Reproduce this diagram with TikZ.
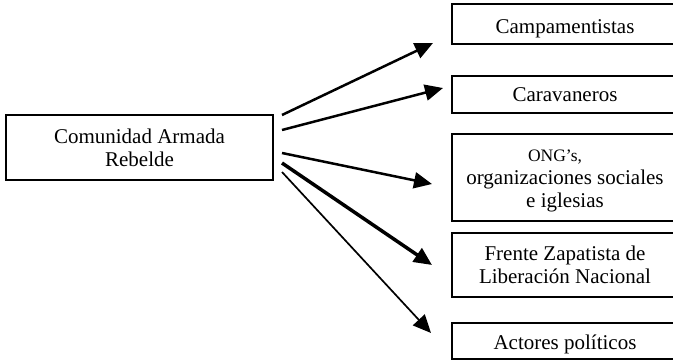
\documentclass[tikz,border=0pt]{standalone}
\usepackage{fontspec}
\setmainfont{Liberation Serif}
\usetikzlibrary{arrows.meta}
\begin{document}
\begin{tikzpicture}[x=1pt,y=-1pt,
  box/.style={draw, line width=1.6pt, align=center, inner sep=0pt,
    font=\fontsize{21}{23}\selectfont},
  tgt/.style={box, minimum width=226pt},
  arr/.style={-{Triangle[length=18pt,width=16pt]}},
]
\useasboundingbox (0,0) rectangle (673,361);
\clip (0,0) rectangle (673,361);

% source box
\node[box, line width=2pt, minimum width=267pt, minimum height=65pt] (L) at (139.5,147.5)
  {Comunidad Armada\\Rebelde};

% target boxes (their right sides run off the page)
\node[tgt, minimum height=40pt, text height=20pt, text depth=1.4pt] (A) at (565,24) {Campamentistas};
\node[tgt, minimum height=37pt] (B) at (565,94.5) {Caravaneros};
\node[tgt, minimum height=87pt] (C) at (565,177.5)
  {{\fontsize{17.5}{23}\selectfont\rule{0pt}{19.3pt}ONG’s,\hspace*{20pt}}\\organizaciones sociales\\e iglesias};
\node[tgt, minimum height=64pt] (D) at (565,265)
  {Frente Zapatista de\\Liberación Nacional};
\node[tgt, minimum height=36pt, text height=18.5pt, text depth=2.5pt] (E) at (565,341) {Actores políticos};

% arrow ends
\coordinate (s1) at (282,115);  \coordinate (h1) at (433,43);
\coordinate (s2) at (282,130);  \coordinate (h2) at (443,88);
\coordinate (s3) at (282,153);  \coordinate (h3) at (432,184);
\coordinate (s4) at (282,163);  \coordinate (h4) at (432,265);
\coordinate (s5) at (282,172);  \coordinate (h5) at (431,333);

\draw[arr, line width=2.5pt] (s1) -- (h1);
\draw[arr, line width=2.5pt] (s2) -- (h2);
\draw[arr, line width=2.5pt] (s3) -- (h3);
\draw[arr, line width=3.5pt] (s4) -- (h4);
\draw[arr, line width=1.7pt] (s5) -- (h5);
\end{tikzpicture}
\end{document}
